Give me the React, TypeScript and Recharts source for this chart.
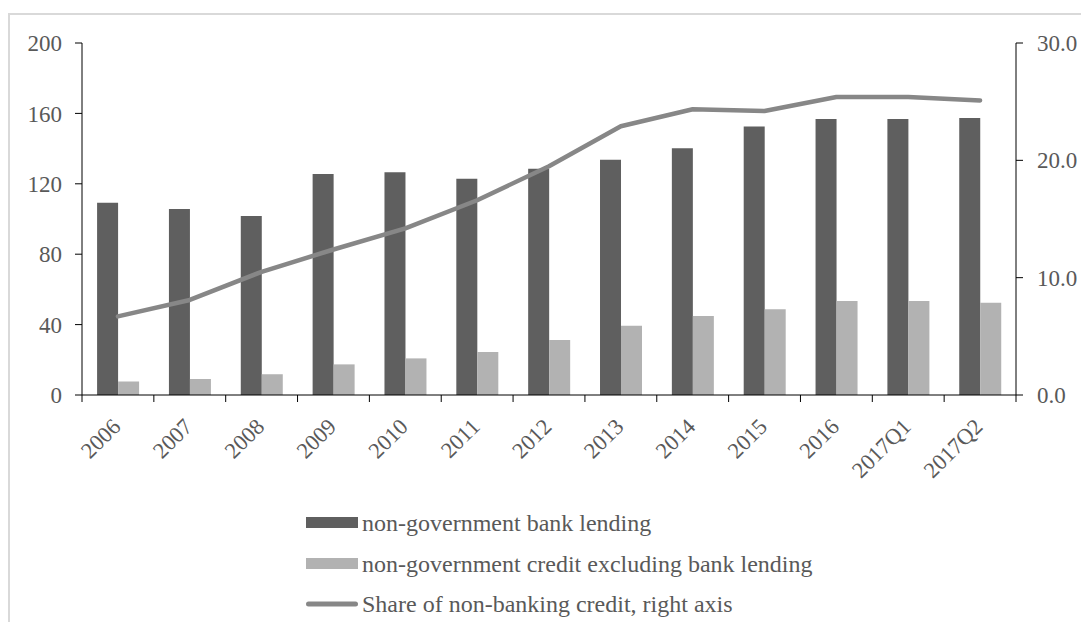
import React from "react";
import { ComposedChart, Bar, Line, XAxis, YAxis, Legend } from "recharts";

const categories = ["2006", "2007", "2008", "2009", "2010", "2011", "2012", "2013", "2014", "2015", "2016", "2017Q1", "2017Q2"];
const bankLending = [109.3, 105.7, 101.7, 125.6, 126.5, 122.9, 128.6, 133.7, 140.2, 152.5, 156.8, 156.8, 157.4];
const nonBankCredit = [7.6, 9.1, 11.8, 17.4, 20.8, 24.4, 31.2, 39.4, 44.9, 48.7, 53.4, 53.4, 52.4];
const nonBankShare = [6.7, 8.1, 10.5, 12.4, 14.2, 16.6, 19.5, 22.9, 24.35, 24.2, 25.4, 25.4, 25.1];
const leftTicks = [0, 40, 80, 120, 160, 200];
const rightTicks = [0, 10, 20, 30];
const seriesNames = [
  "non-government bank lending",
  "non-government credit excluding bank lending",
  "Share of non-banking credit, right axis",
];

const data = categories.map((c, i) => ({
  cat: c,
  bank: bankLending[i],
  nonbank: nonBankCredit[i],
  share: nonBankShare[i],
}));

const FONT = '"Liberation Serif", "Times New Roman", serif';
const TEXT = "#595959";
const DARK = "#5f5f5f";
const LIGHT = "#b2b2b2";
const LINEC = "#878787";

const W = 1073;
const H = 614;
const LEFT_W = 74;
const RIGHT_W = W - 1008;
const PLOT_W = W - LEFT_W - RIGHT_W;
const BAND = PLOT_W / categories.length;

const XTick = (props: any) => {
  const { x, y, payload, index } = props;
  const half = BAND / 2;
  const last = index === categories.length - 1;
  return (
    <g>
      <line x1={x - half} x2={x - half} y1={y} y2={y + 7} stroke="#000" strokeWidth={1} />
      {last && <line x1={x + half} x2={x + half} y1={y} y2={y + 7} stroke="#000" strokeWidth={1} />}
      <text
        x={x + 4}
        y={y + 33}
        textAnchor="end"
        fill={TEXT}
        fontSize={22.5}
        fontFamily={FONT}
        transform={`rotate(-45, ${x + 4}, ${y + 33})`}
      >
        {payload.value}
      </text>
    </g>
  );
};

const LegendContent = () => {
  const swatches = [
    <rect x={0} y={6} width={52} height={11} fill={DARK} />,
    <rect x={0} y={6} width={52} height={11} fill={LIGHT} />,
    <line x1={2.5} x2={49.5} y1={12} y2={12} stroke={LINEC} strokeWidth={5} strokeLinecap="round" />,
  ];
  return (
    <div style={{ fontFamily: FONT, fontSize: 24, color: TEXT }}>
      {seriesNames.map((n, i) => (
        <div key={n} style={{ display: "flex", alignItems: "center", height: 40.5 }}>
          <svg width={52} height={24} style={{ marginRight: 4, flex: "none" }}>
            {swatches[i]}
          </svg>
          <span style={{ whiteSpace: "nowrap", lineHeight: "28px" }}>{n}</span>
        </div>
      ))}
    </div>
  );
};

export default function App() {
  return (
    <div style={{ position: "relative", width: W, height: H, overflow: "hidden" }}>
      <div
        style={{
          position: "absolute",
          left: 0,
          top: 5,
          width: W,
          height: H - 5,
          borderTop: "2px solid #d9d9d9",
          borderLeft: "2px solid #d9d9d9",
          boxSizing: "border-box",
        }}
      />
      <ComposedChart
        width={W}
        height={H}
        data={data}
        margin={{ top: 35, right: 0, bottom: 0, left: 0 }}
        barCategoryGap="21%"
        barGap={0}
        style={{ position: "absolute", left: 0, top: 0 }}
      >
        <XAxis
          dataKey="cat"
          tickLine={false}
          tickSize={0}
          tickMargin={0}
          height={H - 35 - 352}
          axisLine={{ stroke: "#000", strokeWidth: 1 }}
          tick={<XTick />}
          interval={0}
        />
        <YAxis
          yAxisId="left"
          width={LEFT_W}
          domain={[0, 200]}
          ticks={leftTicks}
          tickSize={7}
          tickMargin={13}
          axisLine={{ stroke: "#000" }}
          tickLine={{ stroke: "#000" }}
          tick={{ fill: TEXT, fontSize: 23, fontFamily: FONT }}
        />
        <YAxis
          yAxisId="right"
          orientation="right"
          width={RIGHT_W}
          domain={[0, 30]}
          ticks={rightTicks}
          tickSize={7}
          tickMargin={14}
          axisLine={{ stroke: "#000" }}
          tickLine={{ stroke: "#000" }}
          tickFormatter={(v: number) => v.toFixed(1)}
          tick={{ fill: TEXT, fontSize: 23, fontFamily: FONT, textAnchor: "start" }}
        />
        <Bar yAxisId="left" dataKey="bank" name={seriesNames[0]} fill={DARK} isAnimationActive={false} />
        <Bar yAxisId="left" dataKey="nonbank" name={seriesNames[1]} fill={LIGHT} isAnimationActive={false} />
        <Line
          yAxisId="right"
          dataKey="share"
          name={seriesNames[2]}
          stroke={LINEC}
          strokeWidth={4.5}
          strokeLinecap="round"
          strokeLinejoin="round"
          dot={false}
          activeDot={false}
          type="linear"
          isAnimationActive={false}
        />
        <Legend
          layout="vertical"
          align="center"
          verticalAlign="middle"
          content={<LegendContent />}
          wrapperStyle={{ left: 298, top: 495, width: 640 }}
        />
      </ComposedChart>
    </div>
  );
}
